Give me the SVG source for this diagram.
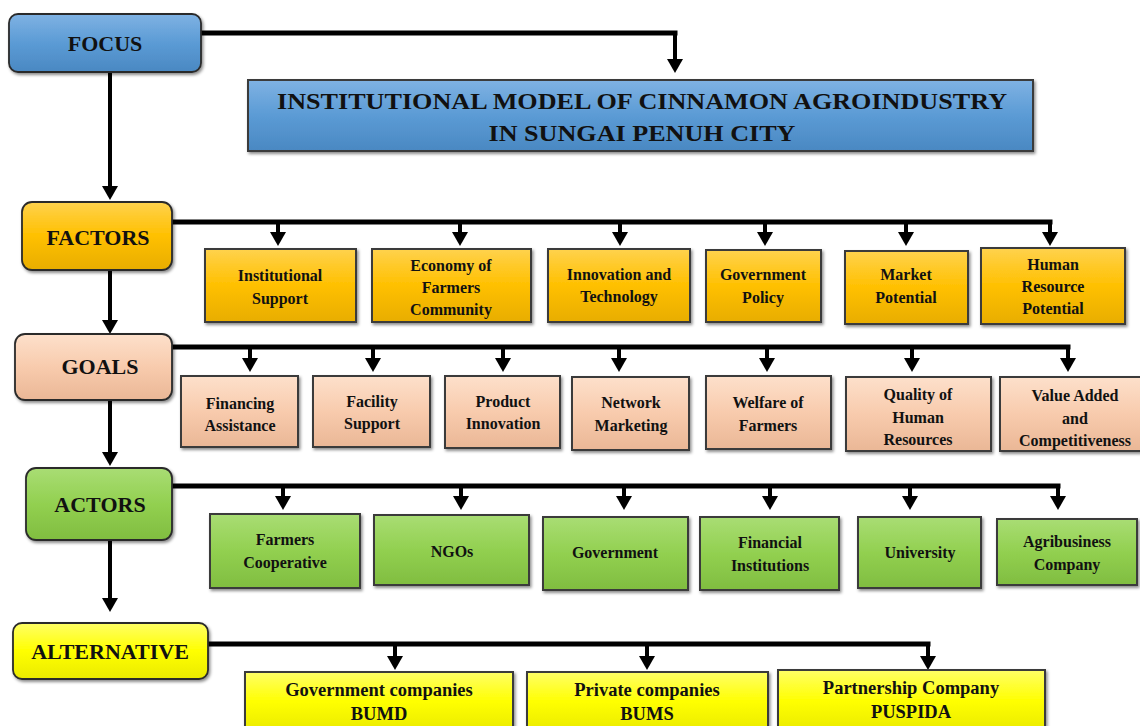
<svg xmlns="http://www.w3.org/2000/svg" width="1140" height="726" viewBox="0 0 1140 726">
<defs>
<marker id="ah" viewBox="0 0 14 16" refX="0" refY="8" markerWidth="14" markerHeight="16" markerUnits="userSpaceOnUse" orient="auto"><path d="M0,0 L14,8 L0,16 z" fill="#000"/></marker>
<filter id="sh" x="-10%" y="-10%" width="125%" height="130%"><feDropShadow dx="1.5" dy="2" stdDeviation="1.5" flood-color="#000" flood-opacity="0.45"/></filter>
<linearGradient id="gBlue" x1="0" y1="0" x2="0" y2="1"><stop offset="0" stop-color="#7fb2e3"/><stop offset="0.5" stop-color="#5b9bd5"/><stop offset="1" stop-color="#4a88c2"/></linearGradient>
<linearGradient id="gGold" x1="0" y1="0" x2="0" y2="1"><stop offset="0" stop-color="#ffd24d"/><stop offset="0.5" stop-color="#ffc000"/><stop offset="1" stop-color="#e8ad00"/></linearGradient>
<linearGradient id="gPeach" x1="0" y1="0" x2="0" y2="1"><stop offset="0" stop-color="#fde0cb"/><stop offset="0.5" stop-color="#f8cbad"/><stop offset="1" stop-color="#eab796"/></linearGradient>
<linearGradient id="gGreen" x1="0" y1="0" x2="0" y2="1"><stop offset="0" stop-color="#a9dd74"/><stop offset="0.5" stop-color="#92d050"/><stop offset="1" stop-color="#80bd40"/></linearGradient>
<linearGradient id="gYellow" x1="0" y1="0" x2="0" y2="1"><stop offset="0" stop-color="#ffff66"/><stop offset="0.5" stop-color="#ffff00"/><stop offset="1" stop-color="#eaea00"/></linearGradient>
</defs>
<style>
.hdr{stroke:#2b2b2b;stroke-width:1.8;filter:url(#sh)}
.box{stroke:#3a3a3a;stroke-width:2;filter:url(#sh)}
.blue{fill:url(#gBlue)}
.gold{fill:url(#gGold)}
.peach{fill:url(#gPeach)}
.green{fill:url(#gGreen)}
.yellow{fill:url(#gYellow)}
text{font-family:"Liberation Serif","Times New Roman",serif;font-weight:bold;fill:#111;text-anchor:middle}
.h{font-size:22px}
.t{font-size:16px}
.a{font-size:18.5px}
.ti{font-size:24px}
.ln{fill:none;stroke:#000;stroke-width:5}
.br{fill:none;stroke:#000;stroke-width:4;marker-end:url(#ah)}
</style>

<g id="connectors">
<path class="ln" d="M201,33 H677.5"/>
<path class="br" d="M675,31 V59"/>
<path class="br" d="M110,72 V186"/>
<path class="ln" d="M172,222 H1052.5"/>
<path class="br" d="M278,222 V232"/>
<path class="br" d="M460,222 V232"/>
<path class="br" d="M620,222 V232"/>
<path class="br" d="M765,222 V232"/>
<path class="br" d="M906,222 V232"/>
<path class="br" d="M1050,220 V232"/>
<path class="br" d="M110,270 V320"/>
<path class="ln" d="M172,347 H1070.5"/>
<path class="br" d="M250,347 V358"/>
<path class="br" d="M373,347 V358"/>
<path class="br" d="M503,347 V358"/>
<path class="br" d="M619,347 V358"/>
<path class="br" d="M767,347 V358"/>
<path class="br" d="M912,347 V358"/>
<path class="br" d="M1068,345 V358"/>
<path class="br" d="M110,400 V452"/>
<path class="ln" d="M172,486 H1060.5"/>
<path class="br" d="M283,486 V496"/>
<path class="br" d="M461,486 V496"/>
<path class="br" d="M624,486 V496"/>
<path class="br" d="M770,486 V496"/>
<path class="br" d="M910,486 V496"/>
<path class="br" d="M1058,484 V496"/>
<path class="br" d="M110,540 V598"/>
<path class="ln" d="M208,644 H930.5"/>
<path class="br" d="M395,644 V656"/>
<path class="br" d="M647,644 V656"/>
<path class="br" d="M928,642 V656"/>
</g>

<g id="focus"><rect class="hdr blue" x="9" y="14" width="192" height="58" rx="9"/><text class="h" x="105" y="51">FOCUS</text></g>
<g id="title"><rect class="box blue" x="248" y="80" width="785" height="71"/>
<text class="ti" x="642" y="109" textLength="730" lengthAdjust="spacingAndGlyphs">INSTITUTIONAL  MODEL OF CINNAMON AGROINDUSTRY</text>
<text class="ti" x="642" y="141" textLength="307" lengthAdjust="spacingAndGlyphs">IN SUNGAI PENUH CITY</text></g>

<g id="factors"><rect class="hdr gold" x="22" y="202" width="150" height="68" rx="10"/><text class="h" x="98" y="245">FACTORS</text></g>
<g id="f1"><rect class="box gold" x="205" y="249" width="151" height="73"/><text class="t" x="280" y="281">Institutional</text><text class="t" x="280" y="304">Support</text></g>
<g id="f2"><rect class="box gold" x="372" y="249" width="159" height="73"/><text class="t" x="451" y="271">Economy of</text><text class="t" x="451" y="293">Farmers</text><text class="t" x="451" y="315">Community</text></g>
<g id="f3"><rect class="box gold" x="548" y="249" width="142" height="73"/><text class="t" x="619" y="280">Innovation and</text><text class="t" x="619" y="302">Technology</text></g>
<g id="f4"><rect class="box gold" x="706" y="250" width="115" height="72"/><text class="t" x="763" y="280">Government</text><text class="t" x="763" y="303">Policy</text></g>
<g id="f5"><rect class="box gold" x="845" y="251" width="123" height="73"/><text class="t" x="906" y="280">Market</text><text class="t" x="906" y="303">Potential</text></g>
<g id="f6"><rect class="box gold" x="981" y="248" width="144" height="76"/><text class="t" x="1053" y="270">Human</text><text class="t" x="1053" y="292">Resource</text><text class="t" x="1053" y="314">Potential</text></g>

<g id="goals"><rect class="hdr peach" x="15" y="334" width="157" height="66" rx="10"/><text class="h" x="100" y="374">GOALS</text></g>
<g id="g1"><rect class="box peach" x="181" y="376" width="117" height="71"/><text class="t" x="240" y="409">Financing</text><text class="t" x="240" y="431">Assistance</text></g>
<g id="g2"><rect class="box peach" x="313" y="376" width="117" height="71"/><text class="t" x="372" y="407">Facility</text><text class="t" x="372" y="429">Support</text></g>
<g id="g3"><rect class="box peach" x="445" y="376" width="115" height="72"/><text class="t" x="503" y="407">Product</text><text class="t" x="503" y="429">Innovation</text></g>
<g id="g4"><rect class="box peach" x="572" y="377" width="117" height="73"/><text class="t" x="631" y="408">Network</text><text class="t" x="631" y="431">Marketing</text></g>
<g id="g5"><rect class="box peach" x="706" y="376" width="125" height="73"/><text class="t" x="768" y="408">Welfare of</text><text class="t" x="768" y="431">Farmers</text></g>
<g id="g6"><rect class="box peach" x="846" y="377" width="145" height="74"/><text class="t" x="918" y="400">Quality of</text><text class="t" x="918" y="423">Human</text><text class="t" x="918" y="445">Resources</text></g>
<g id="g7"><rect class="box peach" x="1000" y="377" width="145" height="74"/><text class="t" x="1075" y="401">Value Added</text><text class="t" x="1075" y="424">and</text><text class="t" x="1075" y="446">Competitiveness</text></g>

<g id="actors"><rect class="hdr green" x="26" y="468" width="146" height="72" rx="10"/><text class="h" x="100" y="512">ACTORS</text></g>
<g id="a1"><rect class="box green" x="210" y="514" width="150" height="74"/><text class="t" x="285" y="545">Farmers</text><text class="t" x="285" y="568">Cooperative</text></g>
<g id="a2"><rect class="box green" x="374" y="515" width="155" height="70"/><text class="t" x="452" y="557">NGOs</text></g>
<g id="a3"><rect class="box green" x="543" y="517" width="145" height="73"/><text class="t" x="615" y="558">Government</text></g>
<g id="a4"><rect class="box green" x="700" y="517" width="139" height="73"/><text class="t" x="770" y="548">Financial</text><text class="t" x="770" y="571">Institutions</text></g>
<g id="a5"><rect class="box green" x="858" y="517" width="123" height="71"/><text class="t" x="920" y="558">University</text></g>
<g id="a6"><rect class="box green" x="997" y="519" width="140" height="66"/><text class="t" x="1067" y="547">Agribusiness</text><text class="t" x="1067" y="570">Company</text></g>

<g id="alternative"><rect class="hdr yellow" x="13" y="623" width="195" height="56" rx="9"/><text class="h" x="110" y="659">ALTERNATIVE</text></g>
<g id="al1"><rect class="box yellow" x="245" y="672" width="268" height="60"/><text class="a" x="379" y="696">Government companies</text><text class="a" x="379" y="720">BUMD</text></g>
<g id="al2"><rect class="box yellow" x="527" y="672" width="241" height="60"/><text class="a" x="647" y="696">Private companies</text><text class="a" x="647" y="720">BUMS</text></g>
<g id="al3"><rect class="box yellow" x="778" y="670" width="267" height="62"/><text class="a" x="911" y="694">Partnership Company</text><text class="a" x="911" y="718">PUSPIDA</text></g>
</svg>
